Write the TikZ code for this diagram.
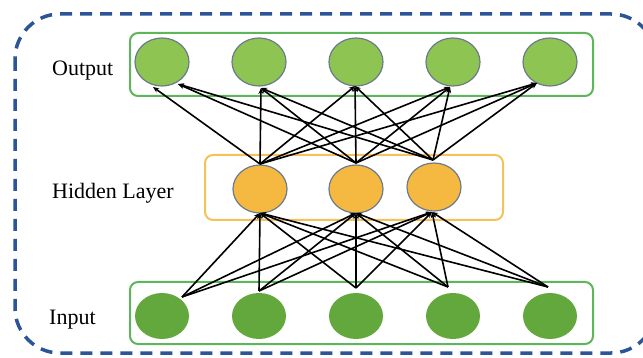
\documentclass[tikz,border=0pt]{standalone}
\usepackage{fontspec}
\setmainfont{Liberation Serif}
\usetikzlibrary{shapes.geometric,arrows.meta}
\definecolor{dashblue}{HTML}{2B5597}
\definecolor{boxgreen}{HTML}{5DB65A}
\definecolor{boxorange}{HTML}{F5C25A}
\definecolor{outfill}{HTML}{8DC452}
\definecolor{infill}{HTML}{63A83C}
\definecolor{hidfill}{HTML}{F5B841}
\definecolor{ringgray}{HTML}{6B7B8A}
\begin{document}
\begin{tikzpicture}[x=1pt,y=-1pt,
  layerbox/.style={draw, rounded corners=8pt, line width=2pt, inner sep=0pt},
  neuron/.style={ellipse, inner sep=0pt, minimum width=54pt, minimum height=48pt},
  outn/.style={neuron, fill=outfill, draw=ringgray, line width=1.2pt},
  hidn/.style={neuron, fill=hidfill, draw=ringgray, line width=1.2pt},
  inn/.style={neuron, fill=infill, minimum height=46pt},
  link/.style={-{Stealth[length=6pt,width=5pt]}, line width=1.6pt, black},
  layertext/.style={anchor=base west, font=\fontsize{22}{26}\selectfont, inner sep=0pt}]
\useasboundingbox (0,0) rectangle (643,358);
\clip (0,0) rectangle (643,358);
% outer dashed frame
\draw[dashblue, line width=3.5pt, dash pattern=on 12pt off 8pt, rounded corners=45pt]
  (15,14) rectangle (656,353);
% layer boxes
\node[layerbox, draw=boxgreen, minimum width=463pt, minimum height=63pt] (outbox) at (361.5,64.5) {};
\node[layerbox, draw=boxorange, minimum width=298pt, minimum height=65pt] (hidbox) at (354,187.5) {};
\node[layerbox, draw=boxgreen, minimum width=463pt, minimum height=62pt] (inbox) at (361.5,313) {};
% labels
\node[layertext] (outlabel) at (52,76) {Output};
\node[layertext] (hidlabel) at (52,199) {Hidden Layer};
\node[layertext] (inlabel) at (49,324) {Input};
% neurons
\node[outn] (o1) at (162,62) {};
\node[outn] (o2) at (259,62) {};
\node[outn] (o3) at (356,62) {};
\node[outn] (o4) at (453,62) {};
\node[outn] (o5) at (550,62) {};
\node[hidn] (h1) at (260,189) {};
\node[hidn] (h2) at (356,189) {};
\node[hidn] (h3) at (434,187) {};
\node[inn] (i1) at (162,316) {};
\node[inn] (i2) at (259,316) {};
\node[inn] (i3) at (356,316) {};
\node[inn] (i4) at (453,316) {};
\node[inn] (i5) at (550,316) {};
% ports
\coordinate (i1p) at (182,297);
\coordinate (i2p) at (259,291);
\coordinate (i3p) at (356,288);
\coordinate (i4p) at (448,287);
\coordinate (i5p) at (548,287);
\coordinate (h1b) at (260,213);
\coordinate (h2b) at (356,213);
\coordinate (h3b) at (432,212);
\coordinate (h1t) at (260,164);
\coordinate (h2t) at (356,163);
\coordinate (h3t) at (433,160);
\coordinate (o1a) at (153,87);
\coordinate (o1b) at (178,84);
\coordinate (o2p) at (261,88);
\coordinate (o3p) at (355,86);
\coordinate (o4p) at (450,87);
\coordinate (o5p) at (537,83);
% connections input -> hidden
\foreach \s in {i1p,i2p,i3p,i4p,i5p}
  \foreach \t in {h1b,h2b,h3b}
    \draw[link] (\s) -- (\t);
% connections hidden -> output
\foreach \s in {h1t,h2t,h3t}
  \foreach \t in {o2p,o3p,o4p,o5p}
    \draw[link] (\s) -- (\t);
\draw[link] (h1t) -- (o1a);
\draw[link] (h2t) -- (o1b);
\draw[link] (h3t) -- (o1b);
\end{tikzpicture}
\end{document}
